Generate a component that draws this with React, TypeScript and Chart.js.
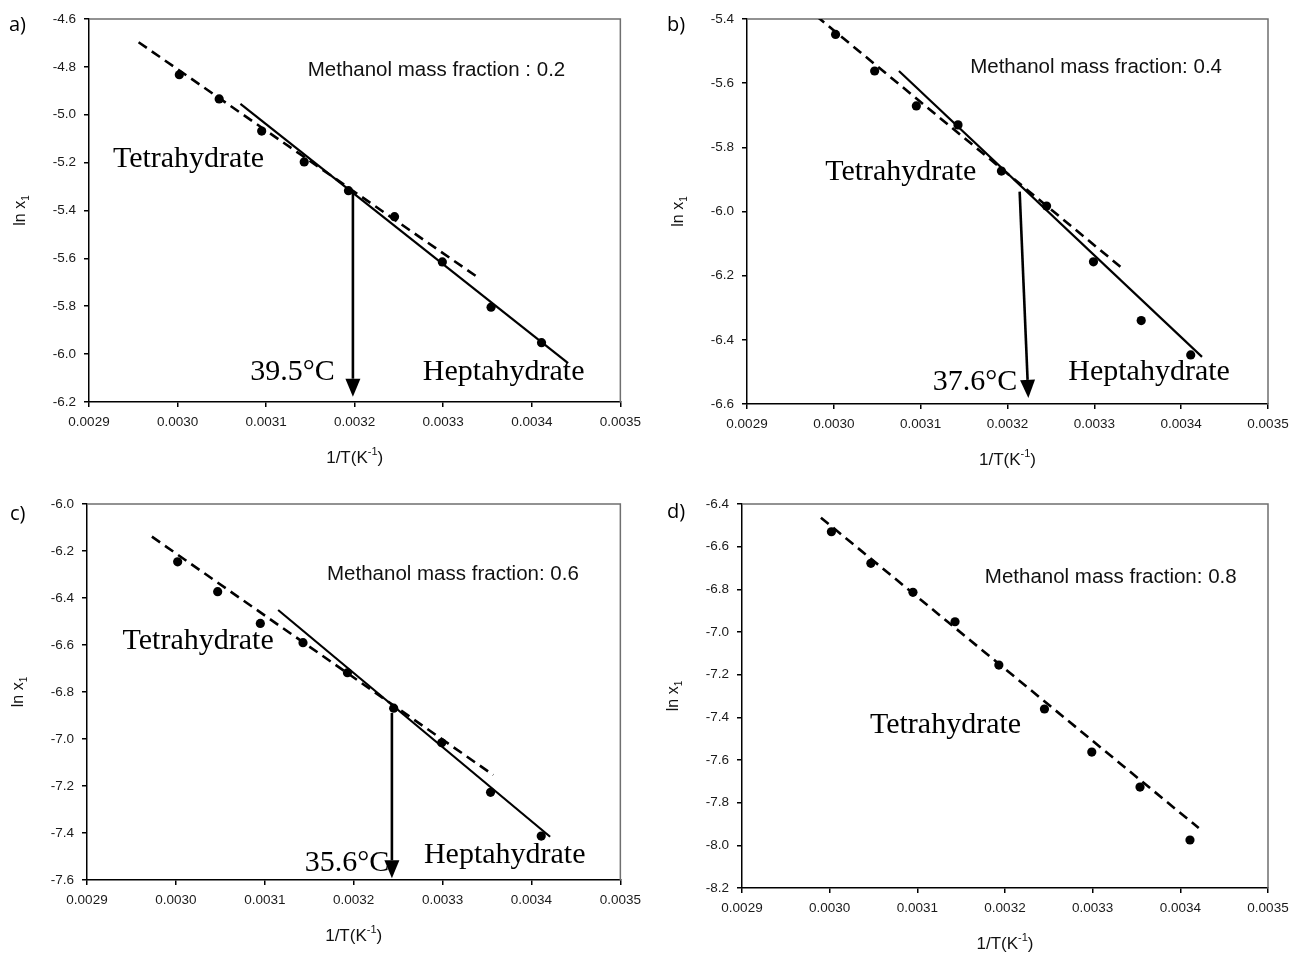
import React, { useEffect, useRef } from "react";
import { Chart, registerables } from "chart.js";
Chart.register(...registerables);

// ---------- data ----------
// 1/T (K^-1) for 60, 55, 50, 45, 40, 35, 30, 25, 20 °C
const invT = [0.003002, 0.003047, 0.003095, 0.003143, 0.003193, 0.003245, 0.003299, 0.003354, 0.003411];

// ln x1 for each methanol mass fraction
const lnX_a = [-4.833, -4.934, -5.068, -5.197, -5.317, -5.426, -5.615, -5.804, -5.952];
const lnX_b = [-5.448, -5.562, -5.671, -5.730, -5.874, -5.983, -6.157, -6.340, -6.447];
const lnX_c = [-6.246, -6.373, -6.508, -6.590, -6.718, -6.869, -7.016, -7.227, -7.413];
const lnX_d = [-6.530, -6.678, -6.814, -6.952, -7.155, -7.361, -7.563, -7.727, -7.975];

// fitted lines (endpoints): tetrahydrate (dashed) and heptahydrate (solid)
const tetraA_x = [0.002956, 0.003337];
const tetraA_y = [-4.697, -5.674];
const heptaA_x = [0.003071, 0.003441];
const heptaA_y = [-4.955, -6.038];

const tetraB_x = [0.00298, 0.00333];
const tetraB_y = [-5.391, -6.172];
const heptaB_x = [0.003075, 0.003424];
const heptaB_y = [-5.562, -6.453];

const tetraC_x = [0.002973, 0.003357];
const tetraC_y = [-6.139, -7.153];
const heptaC_x = [0.003115, 0.003421];
const heptaC_y = [-6.451, -7.416];

const tetraD_x = [0.00299, 0.003421];
const tetraD_y = [-6.464, -7.919];

// transition arrows (from intersection down to axis)
const arrowA_x = [0.003198, 0.003198];
const arrowA_y = [-5.317, -6.178];
const arrowB_x = [0.003214, 0.003224];
const arrowB_y = [-5.938, -6.581];
const arrowC_x = [0.003243, 0.003243];
const arrowC_y = [-6.889, -7.593];

// axis ranges / ticks
const xRange = [0.0029, 0.0035];
const xStep = 0.0001;
const yRangeA = [-6.2, -4.6];
const yRangeB = [-6.6, -5.4];
const yRangeC = [-7.6, -6.0];
const yRangeD = [-8.2, -6.4];
const yStep = 0.2;

// texts
const panelLabels = ["a)", "b)", "c)", "d)"];
const fractionTexts = [
  "Methanol mass fraction : 0.2",
  "Methanol mass fraction: 0.4",
  "Methanol mass fraction: 0.6",
  "Methanol mass fraction: 0.8",
];
const transitionTexts = ["39.5°C", "37.6°C", "35.6°C"];

// ---------- styles / layout ----------
const SANS = "'Liberation Sans', Arial, sans-serif";
const SERIF_FONT = "30px 'Liberation Serif', 'Times New Roman', serif";
const NOTE_FONT = "20.5px 'Liberation Sans', Arial, sans-serif";
const LABEL_FONT = "20px 'Open Sans', 'DejaVu Sans', sans-serif";

type Note = { text: string; x: number; y: number; font: string };
type PanelDef = {
  label: string;
  labelPos: [number, number];
  box: { left: number; top: number; width: number; height: number };
  area: { left: number; top: number; right: number; bottom: number };
  yRange: number[];
  values: number[];
  dashed?: [number[], number[]];
  solid?: [number[], number[]];
  arrow?: [number[], number[]];
  notes: Note[];
};

const panels: PanelDef[] = [
  {
    label: panelLabels[0],
    labelPos: [9, 31],
    box: { left: 0, top: 0, width: 648, height: 470 },
    area: { left: 89, top: 19, right: 621, bottom: 402 },
    yRange: yRangeA,
    values: lnX_a,
    dashed: [tetraA_x, tetraA_y],
    solid: [heptaA_x, heptaA_y],
    arrow: [arrowA_x, arrowA_y],
    notes: [
      { text: fractionTexts[0], x: 0.003147, y: -4.838, font: NOTE_FONT },
      { text: "Tetrahydrate", x: 0.002927, y: -5.218, font: SERIF_FONT },
      { text: transitionTexts[0], x: 0.003082, y: -6.108, font: SERIF_FONT },
      { text: "Heptahydrate", x: 0.003277, y: -6.108, font: SERIF_FONT },
    ],
  },
  {
    label: panelLabels[1],
    labelPos: [19, 31],
    box: { left: 648, top: 0, width: 648, height: 470 },
    area: { left: 747, top: 19, right: 1268, bottom: 404 },
    yRange: yRangeB,
    values: lnX_b,
    dashed: [tetraB_x, tetraB_y],
    solid: [heptaB_x, heptaB_y],
    arrow: [arrowB_x, arrowB_y],
    notes: [
      { text: fractionTexts[1], x: 0.003157, y: -5.569, font: NOTE_FONT },
      { text: "Tetrahydrate", x: 0.00299, y: -5.902, font: SERIF_FONT },
      { text: transitionTexts[1], x: 0.003114, y: -6.557, font: SERIF_FONT },
      { text: "Heptahydrate", x: 0.00327, y: -6.525, font: SERIF_FONT },
    ],
  },
  {
    label: panelLabels[2],
    labelPos: [10, 50],
    box: { left: 0, top: 470, width: 648, height: 487 },
    area: { left: 87, top: 504, right: 624, bottom: 880 },
    yRange: yRangeC,
    values: lnX_c,
    dashed: [tetraC_x, tetraC_y],
    solid: [heptaC_x, heptaC_y],
    arrow: [arrowC_x, arrowC_y],
    notes: [
      { text: fractionTexts[2], x: 0.00317, y: -6.323, font: NOTE_FONT },
      { text: "Tetrahydrate", x: 0.00294, y: -6.618, font: SERIF_FONT },
      { text: transitionTexts[2], x: 0.003145, y: -7.56, font: SERIF_FONT },
      { text: "Heptahydrate", x: 0.003279, y: -7.526, font: SERIF_FONT },
    ],
  },
  {
    label: panelLabels[3],
    labelPos: [19, 48],
    box: { left: 648, top: 470, width: 648, height: 487 },
    area: { left: 742, top: 504, right: 1268, bottom: 888 },
    yRange: yRangeD,
    values: lnX_d,
    dashed: [tetraD_x, tetraD_y],
    notes: [
      { text: fractionTexts[3], x: 0.003177, y: -6.77, font: NOTE_FONT },
      { text: "Tetrahydrate", x: 0.003046, y: -7.474, font: SERIF_FONT },
    ],
  },
];

const zip = (xs: number[], ys: number[]) => xs.map((x, i) => ({ x, y: ys[i] }));

function drawXTitle(ctx: CanvasRenderingContext2D, cx: number, cy: number) {
  const main = "1/T(K";
  const sup = "-1";
  const end = ")";
  const f1 = `17px ${SANS}`;
  const f2 = `11px ${SANS}`;
  ctx.font = f1;
  const w1 = ctx.measureText(main).width;
  const w3 = ctx.measureText(end).width;
  ctx.font = f2;
  const w2 = ctx.measureText(sup).width;
  let x = cx - (w1 + w2 + w3) / 2;
  ctx.textBaseline = "middle";
  ctx.textAlign = "left";
  ctx.font = f1;
  ctx.fillText(main, x, cy);
  x += w1;
  ctx.font = f2;
  ctx.fillText(sup, x, cy - 6);
  x += w2;
  ctx.font = f1;
  ctx.fillText(end, x, cy);
}

function drawYTitle(ctx: CanvasRenderingContext2D, cx: number, cy: number) {
  ctx.save();
  ctx.translate(cx, cy);
  ctx.rotate(-Math.PI / 2);
  const main = "ln x";
  const sub = "1";
  const f1 = `16px ${SANS}`;
  const f2 = `10px ${SANS}`;
  ctx.font = f1;
  const w1 = ctx.measureText(main).width;
  ctx.font = f2;
  const w2 = ctx.measureText(sub).width;
  let x = -(w1 + w2) / 2;
  ctx.textBaseline = "middle";
  ctx.textAlign = "left";
  ctx.font = f1;
  ctx.fillText(main, x, 0);
  x += w1;
  ctx.font = f2;
  ctx.fillText(sub, x, 5);
  ctx.restore();
}

function makeDecor(p: PanelDef) {
  return {
    id: "decor",
    beforeDatasetsDraw(chart: any) {
      const { ctx, chartArea } = chart;
      ctx.save();
      ctx.strokeStyle = "#6f6f6f";
      ctx.lineWidth = 1.5;
      ctx.beginPath();
      ctx.moveTo(chartArea.left, chartArea.top);
      ctx.lineTo(chartArea.right, chartArea.top);
      ctx.lineTo(chartArea.right, chartArea.bottom);
      ctx.stroke();
      ctx.restore();
    },
    afterDatasetsDraw(chart: any) {
      const { ctx } = chart;
      const xs = chart.scales.x;
      const ys = chart.scales.y;
      ctx.save();
      if (p.arrow) {
        const [ax, ay] = p.arrow;
        const x0 = xs.getPixelForValue(ax[0]);
        const y0 = ys.getPixelForValue(ay[0]);
        const x1 = xs.getPixelForValue(ax[1]);
        const y1 = ys.getPixelForValue(ay[1]);
        const dx = x1 - x0;
        const dy = y1 - y0;
        const len = Math.hypot(dx, dy);
        const ux = dx / len;
        const uy = dy / len;
        const headL = 18;
        const headW = 7.5;
        ctx.strokeStyle = "#000";
        ctx.fillStyle = "#000";
        ctx.lineWidth = 2.6;
        ctx.beginPath();
        ctx.moveTo(x0, y0);
        ctx.lineTo(x1 - ux * headL, y1 - uy * headL);
        ctx.stroke();
        const bx = x1 - ux * headL;
        const by = y1 - uy * headL;
        ctx.beginPath();
        ctx.moveTo(x1, y1);
        ctx.lineTo(bx - uy * headW, by + ux * headW);
        ctx.lineTo(bx + uy * headW, by - ux * headW);
        ctx.closePath();
        ctx.fill();
      }
      ctx.fillStyle = "#000";
      ctx.textAlign = "left";
      ctx.textBaseline = "alphabetic";
      for (const n of p.notes) {
        ctx.font = n.font;
        ctx.fillStyle = n.font === NOTE_FONT ? "#111" : "#000";
        ctx.fillText(n.text, xs.getPixelForValue(n.x), ys.getPixelForValue(n.y));
      }
      ctx.restore();
    },
    afterDraw(chart: any) {
      const { ctx, chartArea } = chart;
      ctx.save();
      ctx.fillStyle = "#111";
      drawXTitle(ctx, (chartArea.left + chartArea.right) / 2, chartArea.bottom + 56);
      drawYTitle(ctx, chartArea.left - 68, (chartArea.top + chartArea.bottom) / 2);
      ctx.font = LABEL_FONT;
      ctx.fillStyle = "#000";
      ctx.textAlign = "left";
      ctx.textBaseline = "alphabetic";
      ctx.fillText(p.label, p.labelPos[0], p.labelPos[1]);
      ctx.restore();
    },
  };
}

function buildConfig(p: PanelDef): any {
  const L = p.area.left - p.box.left;
  const T = p.area.top - p.box.top;
  const Rpad = p.box.left + p.box.width - p.area.right;
  const Hx = p.box.top + p.box.height - p.area.bottom;
  const datasets: any[] = [
    {
      data: zip(invT, p.values),
      showLine: false,
      pointRadius: 4.6,
      pointHoverRadius: 4.6,
      pointBackgroundColor: "#000",
      pointBorderColor: "#000",
      pointBorderWidth: 0,
    },
  ];
  if (p.dashed) {
    datasets.push({
      data: zip(p.dashed[0], p.dashed[1]),
      showLine: true,
      borderColor: "#000",
      borderWidth: 2.6,
      borderDash: [10, 6],
      pointRadius: 0,
      pointHoverRadius: 0,
    });
  }
  if (p.solid) {
    datasets.push({
      data: zip(p.solid[0], p.solid[1]),
      showLine: true,
      borderColor: "#000",
      borderWidth: 2.2,
      pointRadius: 0,
      pointHoverRadius: 0,
    });
  }
  const tickFont = { family: SANS, size: 13.5 };
  return {
    type: "scatter",
    data: { datasets },
    options: {
      responsive: false,
      animation: false,
      events: [],
      layout: { padding: { left: 0, top: T, right: Rpad, bottom: 0 } },
      plugins: { legend: { display: false }, tooltip: { enabled: false } },
      scales: {
        x: {
          type: "linear",
          min: xRange[0],
          max: xRange[1],
          afterFit: (s: any) => {
            s.height = Hx;
          },
          border: { display: true, color: "#000", width: 1.5 },
          grid: { display: true, drawOnChartArea: false, drawTicks: true, tickLength: 5, color: "#000", lineWidth: 1.5 },
          ticks: {
            stepSize: xStep,
            autoSkip: false,
            maxRotation: 0,
            padding: 7,
            color: "#1a1a1a",
            font: tickFont,
            callback: (v: number) => Number(v).toFixed(4),
          },
        },
        y: {
          type: "linear",
          min: p.yRange[0],
          max: p.yRange[1],
          afterFit: (s: any) => {
            s.width = L;
          },
          border: { display: true, color: "#000", width: 1.5 },
          grid: { display: true, drawOnChartArea: false, drawTicks: true, tickLength: 5, color: "#000", lineWidth: 1.5 },
          ticks: {
            stepSize: yStep,
            autoSkip: false,
            padding: 8,
            color: "#1a1a1a",
            font: tickFont,
            callback: (v: number) => Number(v).toFixed(1),
          },
        },
      },
    },
    plugins: [makeDecor(p)],
  };
}

function Panel({ p }: { p: PanelDef }) {
  const ref = useRef<HTMLCanvasElement>(null);
  useEffect(() => {
    if (!ref.current) return;
    const chart = new Chart(ref.current, buildConfig(p));
    return () => chart.destroy();
  }, [p]);
  return (
    <canvas
      ref={ref}
      width={p.box.width}
      height={p.box.height}
      style={{
        position: "absolute",
        left: p.box.left,
        top: p.box.top,
        width: p.box.width,
        height: p.box.height,
      }}
    />
  );
}

export default function App() {
  return (
    <div
      style={{
        position: "absolute",
        left: 0,
        top: 0,
        width: 1296,
        height: 957,
        background: "#fff",
        overflow: "hidden",
      }}
    >
      {panels.map((p) => (
        <Panel key={p.label} p={p} />
      ))}
    </div>
  );
}
